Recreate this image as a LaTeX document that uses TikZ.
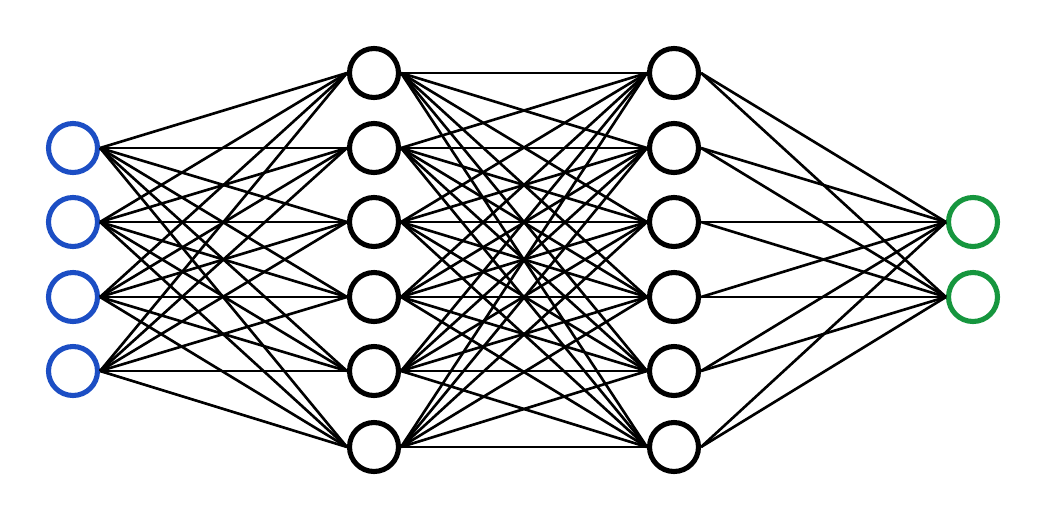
\documentclass[tikz,border=0pt]{standalone}
\usetikzlibrary{positioning}

\definecolor{inblue}{RGB}{28,78,196}
\definecolor{outgreen}{RGB}{22,150,62}

\begin{document}
\begin{tikzpicture}[x=0.02cm,y=-0.02cm,
    neuron/.style={circle,draw,line width=2.9pt,minimum size=0.98cm,inner sep=0pt},
    input/.style={neuron,draw=inblue},
    hidden/.style={neuron,draw=black},
    output/.style={neuron,draw=outgreen},
    edge/.style={line width=1.5pt}]
    \useasboundingbox (0,0) rectangle (1048,521);

    \node[input] (i1) at (73,148) {};
    \node[input] (i2) at (73,222) {};
    \node[input] (i3) at (73,297) {};
    \node[input] (i4) at (73,371) {};

    \node[hidden] (a1) at (374,73) {};
    \node[hidden] (a2) at (374,148) {};
    \node[hidden] (a3) at (374,222) {};
    \node[hidden] (a4) at (374,297) {};
    \node[hidden] (a5) at (374,371) {};
    \node[hidden] (a6) at (374,447) {};

    \node[hidden] (b1) at (674,73) {};
    \node[hidden] (b2) at (674,148) {};
    \node[hidden] (b3) at (674,222) {};
    \node[hidden] (b4) at (674,297) {};
    \node[hidden] (b5) at (674,371) {};
    \node[hidden] (b6) at (674,447) {};

    \node[output] (o1) at (973,222) {};
    \node[output] (o2) at (973,297) {};

    \foreach \i in {1,...,4}
      \foreach \j in {1,...,6}
        \draw[edge] (i\i.east) -- (a\j.west);
    \foreach \i in {1,...,6}
      \foreach \j in {1,...,6}
        \draw[edge] (a\i.east) -- (b\j.west);
    \foreach \i in {1,...,6}
      \foreach \j in {1,2}
        \draw[edge] (b\i.east) -- (o\j.west);
  \end{tikzpicture}
\end{document}
